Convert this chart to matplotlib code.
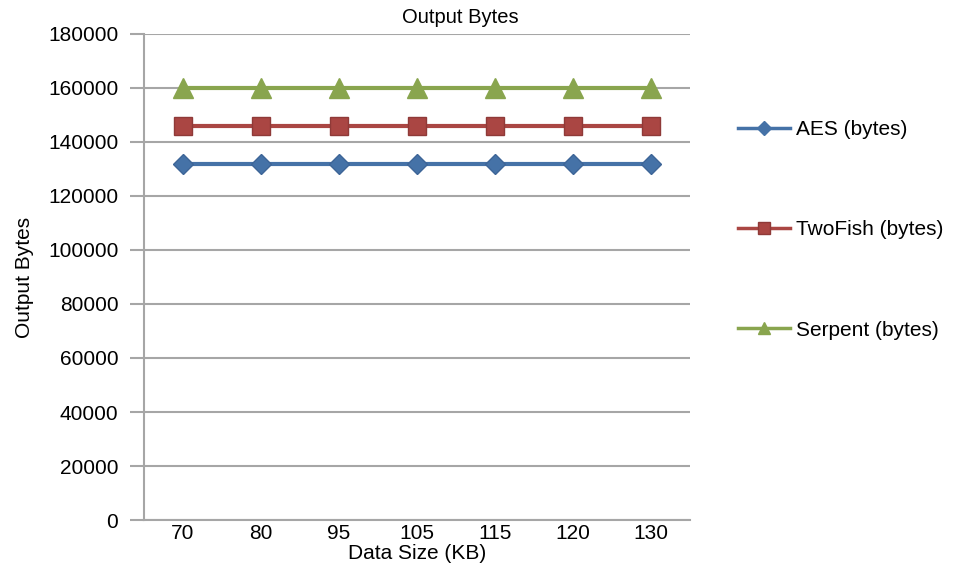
import matplotlib.pyplot as plt
from matplotlib.lines import Line2D

plt.rcParams['font.family'] = ['Liberation Sans', 'DejaVu Sans']

# dati
data_size = ['70', '80', '95', '105', '115', '120', '130']
aes = [132000, 132000, 132000, 132000, 132000, 132000, 132000]
twofish = [146000, 146000, 146000, 146000, 146000, 146000, 146000]
serpent = [160000, 160000, 160000, 160000, 160000, 160000, 160000]

fig = plt.figure(figsize=(9.6, 5.71), dpi=100)
ax = fig.add_axes([0.15, 0.0893, 0.569, 0.8512])

grid_col = '#a6a6a6'
x = range(len(data_size))

ax.plot(x, aes, color='#4572a7', lw=3, marker='D', ms=10,
        mec='#3d6597', mfc='#4572a7', label='AES (bytes)', zorder=3)
ax.plot(x, twofish, color='#aa4643', lw=3, marker='s', ms=13,
        mec='#8f3a38', mfc='#aa4643', label='TwoFish (bytes)', zorder=3)
ax.plot(x, serpent, color='#89a54e', lw=3, marker='^', ms=14,
        mec='#89a54e', mfc='#89a54e', label='Serpent (bytes)', zorder=3)

ax.set_xlim(-0.5, len(data_size) - 0.5)
ax.set_ylim(0, 180000)
ax.set_yticks(range(0, 180001, 20000))
ax.set_xticks(list(x))
ax.set_xticklabels(data_size)

ax.yaxis.grid(True, color=grid_col, lw=1.5)
ax.set_axisbelow(True)
for s in ['top', 'right']:
    ax.spines[s].set_visible(False)
ax.spines['left'].set_color(grid_col)
ax.spines['left'].set_linewidth(1.5)
ax.spines['bottom'].set_color(grid_col)
ax.spines['bottom'].set_linewidth(1.5)
ax.tick_params(axis='y', length=10, width=1.5, color=grid_col, labelsize=15, pad=8.5)
ax.tick_params(axis='x', length=0, labelsize=15, pad=3)

ax.set_xlabel('Data Size (KB)', fontsize=15, labelpad=0.5)
ax.set_ylabel('Output Bytes', fontsize=15, labelpad=10)
fig.text(0.479, 0.97, 'Output Bytes', ha='center', va='center', fontsize=14.5)

handles = [
    Line2D([], [], color='#4572a7', lw=2.5, marker='D', ms=7, mfc='#4572a7', mec='#4572a7'),
    Line2D([], [], color='#aa4643', lw=2.5, marker='s', ms=9, mfc='#aa4643', mec='#8f3a38'),
    Line2D([], [], color='#89a54e', lw=2.5, marker='^', ms=9, mfc='#89a54e', mec='#89a54e'),
]
fig.legend(handles, ['AES (bytes)', 'TwoFish (bytes)', 'Serpent (bytes)'],
           loc='upper left', bbox_to_anchor=(0.76, 0.804), frameon=False,
           fontsize=15, labelspacing=3.9, handlelength=2.5, handletextpad=0.3,
           borderaxespad=0)

fig.savefig('out.png', dpi=100)
